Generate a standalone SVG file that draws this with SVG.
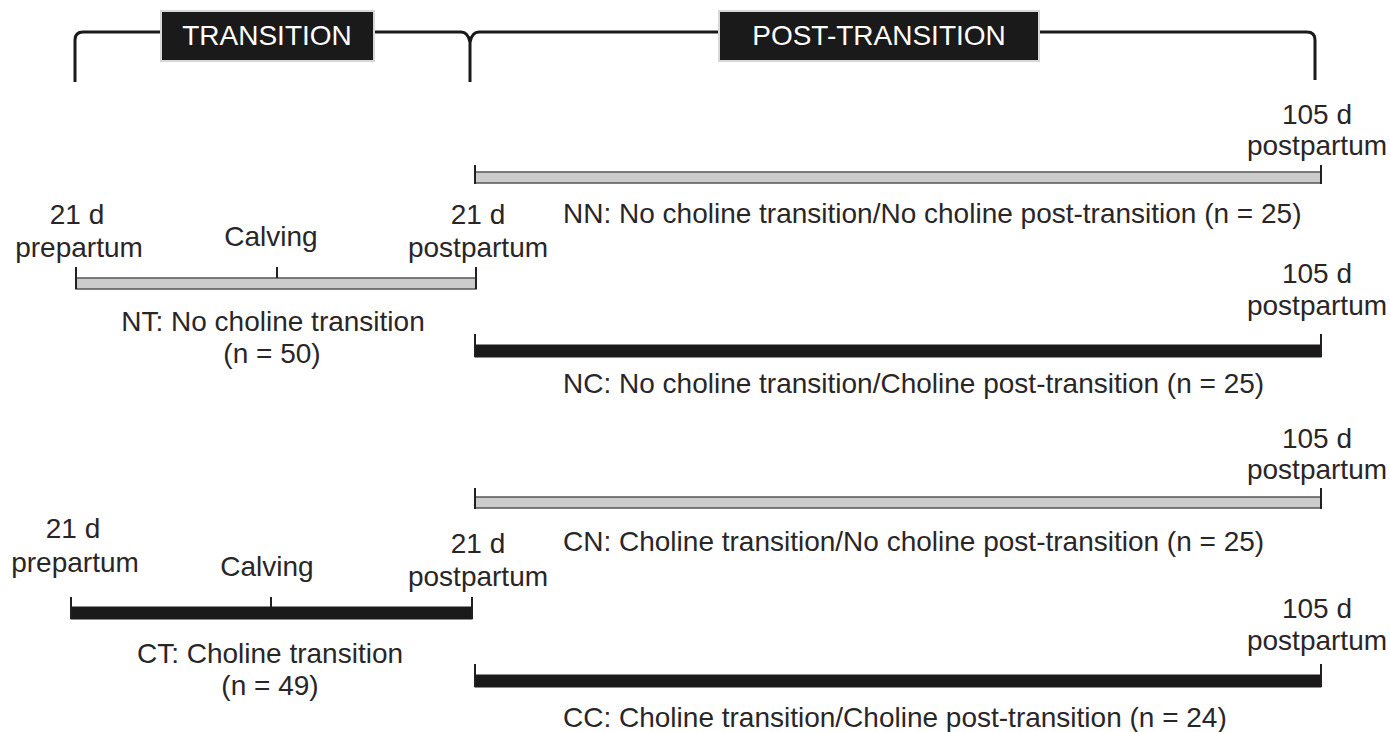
<svg xmlns="http://www.w3.org/2000/svg" width="1390" height="732" viewBox="0 0 1390 732">
<style>
text{font-family:"Liberation Sans",Arial,sans-serif;font-size:28px;fill:#2a2627}
.m{text-anchor:middle}
.hd{fill:#ffffff;text-anchor:middle}
.box{fill:#1a1a1a;stroke:#d8d8d8;stroke-width:2}
.brace{fill:none;stroke:#1a1a1a;stroke-width:3}
.g{fill:#cccccc;stroke:#555555;stroke-width:1.5}
.b{fill:#1a1a1a;stroke:#1a1a1a;stroke-width:1}
.tk{stroke:#231f20;stroke-width:2}
</style>
<rect width="1390" height="732" fill="#ffffff"/>
<g id="brace" class="brace">
<path d="M75,82 V40 Q75,32 83,32 H162"/>
<path d="M373,32 H461 Q468,32 470,42 V82"/>
<path d="M470,42 Q472,32 479,32 H720"/>
<path d="M1038,32 H1307 Q1315,32 1315,40 V80"/>
</g>
<g id="transition-header">
<rect class="box" x="161" y="11" width="213" height="50"/>
<text class="hd" x="267" y="45">TRANSITION</text>
</g>
<g id="post-transition-header">
<rect class="box" x="719" y="11" width="320" height="50"/>
<text class="hd" x="879" y="45">POST-TRANSITION</text>
</g>
<g id="NT">
<rect class="g" x="76" y="278" width="400" height="11"/>
<line class="tk" x1="76" y1="267" x2="76" y2="289"/>
<line class="tk" x1="277" y1="267" x2="277" y2="278"/>
<line class="tk" x1="476" y1="267" x2="476" y2="289"/>
<text class="m" x="77" y="224">21 d</text>
<text class="m" x="79" y="257">prepartum</text>
<text class="m" x="271" y="246">Calving</text>
<text class="m" x="478" y="224">21 d</text>
<text class="m" x="478" y="257">postpartum</text>
<text class="m" x="273" y="331">NT: No choline transition</text>
<text class="m" x="272" y="363">(n = 50)</text>
</g>
<g id="CT">
<rect class="b" x="71" y="607" width="401" height="12"/>
<line class="tk" x1="71" y1="597" x2="71" y2="619"/>
<line class="tk" x1="271" y1="597" x2="271" y2="607"/>
<line class="tk" x1="472" y1="597" x2="472" y2="619"/>
<text class="m" x="73" y="538">21 d</text>
<text class="m" x="75" y="572">prepartum</text>
<text class="m" x="267" y="576">Calving</text>
<text class="m" x="478" y="553">21 d</text>
<text class="m" x="478" y="586">postpartum</text>
<text class="m" x="270" y="663">CT: Choline transition</text>
<text class="m" x="270" y="695">(n = 49)</text>
</g>
<g id="NN">
<rect class="g" x="475" y="172" width="846" height="11"/>
<line class="tk" x1="475" y1="165" x2="475" y2="184"/>
<line class="tk" x1="1321" y1="165" x2="1321" y2="184"/>
<text class="m" x="1317" y="124">105 d</text>
<text class="m" x="1317" y="155">postpartum</text>
<text x="563" y="223">NN: No choline transition/No choline post-transition (n = 25)</text>
</g>
<g id="NC">
<rect class="b" x="475" y="345" width="846" height="12"/>
<line class="tk" x1="475" y1="334" x2="475" y2="357"/>
<line class="tk" x1="1321" y1="334" x2="1321" y2="357"/>
<text class="m" x="1317" y="283">105 d</text>
<text class="m" x="1317" y="315">postpartum</text>
<text x="563" y="393">NC: No choline transition/Choline post-transition (n = 25)</text>
</g>
<g id="CN">
<rect class="g" x="475" y="497" width="846" height="11"/>
<line class="tk" x1="475" y1="488" x2="475" y2="509"/>
<line class="tk" x1="1321" y1="488" x2="1321" y2="509"/>
<text class="m" x="1317" y="448">105 d</text>
<text class="m" x="1317" y="479">postpartum</text>
<text x="563" y="551">CN: Choline transition/No choline post-transition (n = 25)</text>
</g>
<g id="CC">
<rect class="b" x="475" y="675" width="846" height="12"/>
<line class="tk" x1="475" y1="664" x2="475" y2="687"/>
<line class="tk" x1="1321" y1="664" x2="1321" y2="687"/>
<text class="m" x="1317" y="618">105 d</text>
<text class="m" x="1317" y="650">postpartum</text>
<text x="563" y="727">CC: Choline transition/Choline post-transition (n = 24)</text>
</g>
</svg>
